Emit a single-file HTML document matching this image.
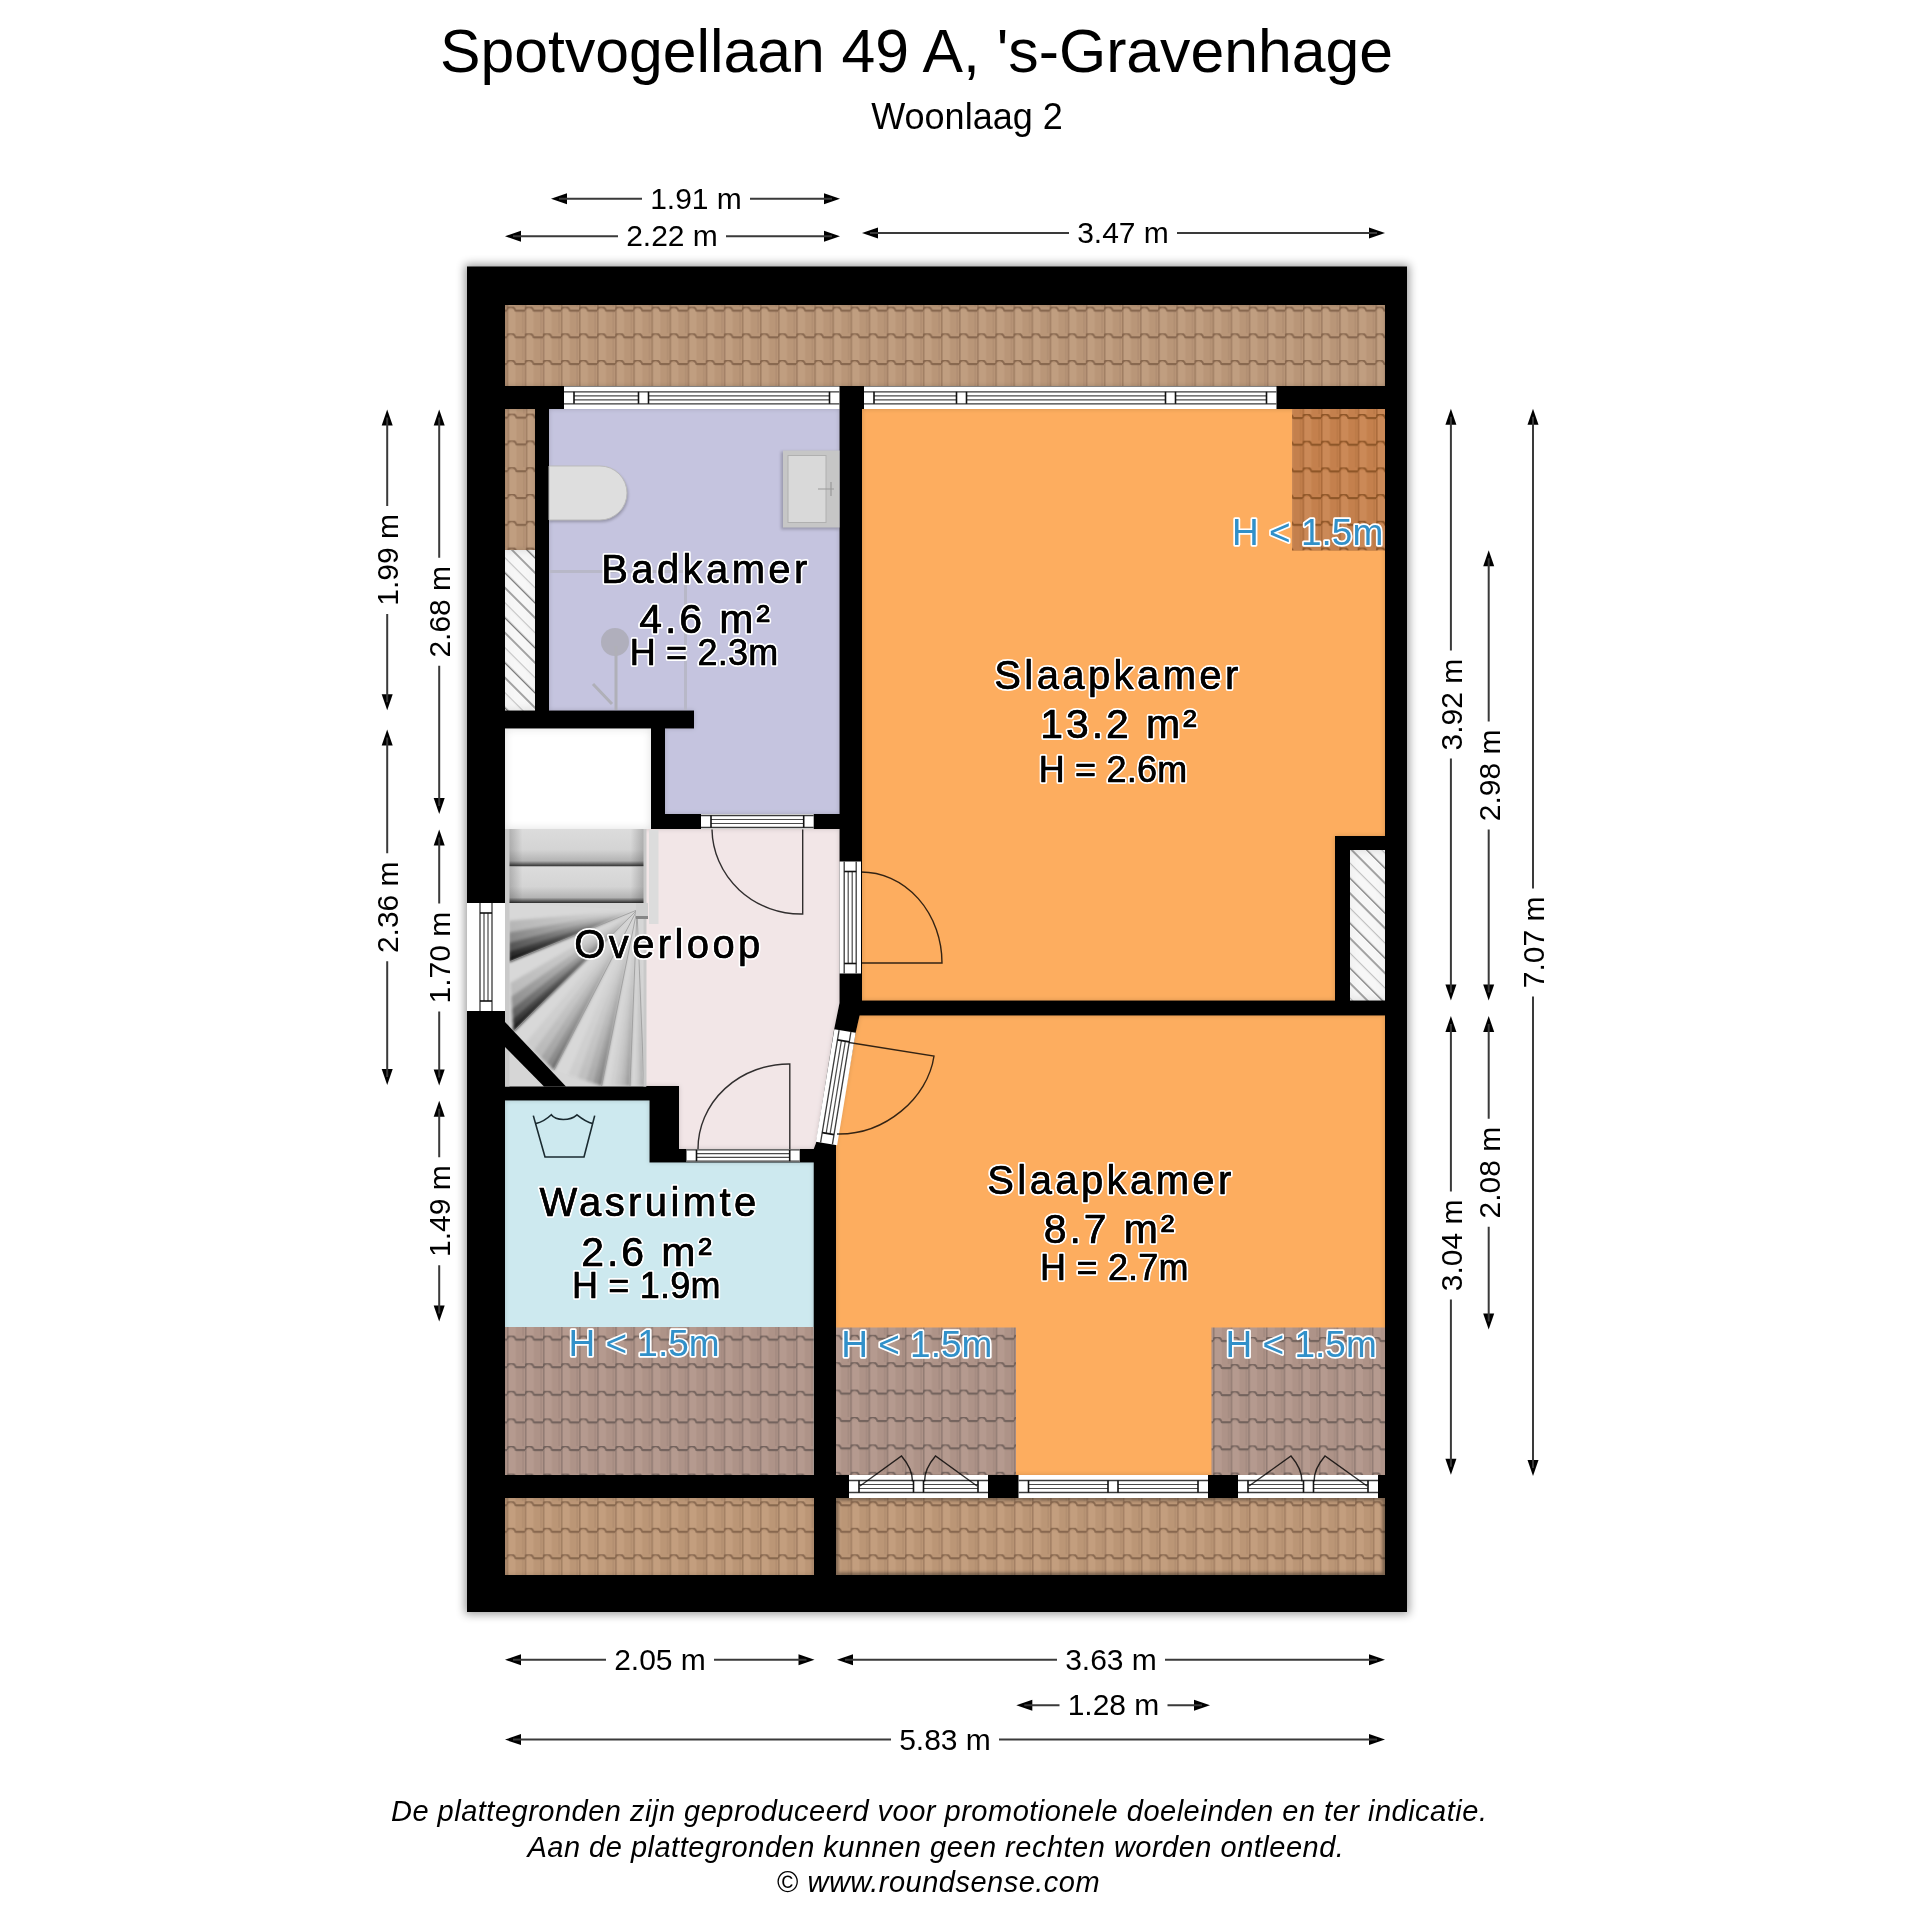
<!DOCTYPE html>
<html><head><meta charset="utf-8"><title>Spotvogellaan 49 A - Woonlaag 2</title>
<style>
html,body{margin:0;padding:0;background:#fff;width:1920px;height:1920px;overflow:hidden}
svg{display:block;will-change:transform}
text{font-family:"Liberation Sans",sans-serif;}
.dim{fill:#000}
.lbl{fill:#000;stroke:#fff;stroke-width:4px;paint-order:stroke;stroke-linejoin:round;font-size:40px;letter-spacing:3.4px}
.ar{fill:#000;stroke:#fff;stroke-width:4px;paint-order:stroke;stroke-linejoin:round;font-size:41px;letter-spacing:2.9px}
.hl{fill:#000;stroke:#fff;stroke-width:4px;paint-order:stroke;stroke-linejoin:round;font-size:36px;letter-spacing:0.2px}
.hlo{fill:#3190c9;stroke:#fff;stroke-width:3.4px;paint-order:stroke;stroke-linejoin:round;font-size:37px}
.ov{stroke:currentColor;stroke-width:0.55px}
.lbl.ov,.ar.ov,.hl.ov{stroke:#000;color:#000}
.hlo.ov{stroke:#3391cb}
.disc{font-style:italic;font-size:29px;fill:#000;letter-spacing:0.5px}
</style></head><body>
<svg width="1920" height="1920" viewBox="0 0 1920 1920">
<defs>
<pattern id="tileTop" patternUnits="userSpaceOnUse" width="18.1" height="26.7" x="506.6" y="306.6">
<rect width="18.1" height="26.7" fill="#b99678"/>
<rect x="1.6" y="3" width="7.31" height="23.7" fill="#c4a184" opacity="0.7"/>
<rect x="15.50" y="4" width="1.4" height="22.7" fill="#84644c" opacity="0.18"/>
<rect x="0" y="0" width="1.5" height="26.7" fill="#84644c" opacity="0.45"/>
<path d="M0,3.9 C0.4,0.8 1.8,0.2 4.25,0.2 C6.71,0.2 7.91,0.8 8.91,3.9 L18.1,3.9" fill="none" stroke="#84644c" stroke-width="1.9" opacity="0.9"/>
<rect x="9.11" y="3.9" width="8.99" height="1.6" fill="#84644c" opacity="0.35"/>
</pattern>
<pattern id="tileBot" patternUnits="userSpaceOnUse" width="18.1" height="26.5" x="506.6" y="1501.3">
<rect width="18.1" height="26.5" fill="#bb9676"/>
<rect x="1.6" y="3" width="7.31" height="23.5" fill="#c6a182" opacity="0.7"/>
<rect x="15.50" y="4" width="1.4" height="22.5" fill="#84644c" opacity="0.18"/>
<rect x="0" y="0" width="1.5" height="26.5" fill="#84644c" opacity="0.45"/>
<path d="M0,3.9 C0.4,0.8 1.8,0.2 4.25,0.2 C6.71,0.2 7.91,0.8 8.91,3.9 L18.1,3.9" fill="none" stroke="#84644c" stroke-width="1.9" opacity="0.9"/>
<rect x="9.11" y="3.9" width="8.99" height="1.6" fill="#84644c" opacity="0.35"/>
</pattern>
<pattern id="tileBot2" patternUnits="userSpaceOnUse" width="18.15" height="26.5" x="850.5" y="1501.3">
<rect width="18.15" height="26.5" fill="#bb9676"/>
<rect x="1.6" y="3" width="7.33" height="23.5" fill="#c6a182" opacity="0.7"/>
<rect x="15.55" y="4" width="1.4" height="22.5" fill="#84644c" opacity="0.18"/>
<rect x="0" y="0" width="1.5" height="26.5" fill="#84644c" opacity="0.45"/>
<path d="M0,3.9 C0.4,0.8 1.8,0.2 4.27,0.2 C6.73,0.2 7.93,0.8 8.93,3.9 L18.15,3.9" fill="none" stroke="#84644c" stroke-width="1.9" opacity="0.9"/>
<rect x="9.13" y="3.9" width="9.02" height="1.6" fill="#84644c" opacity="0.35"/>
</pattern>
<pattern id="tileBot3" patternUnits="userSpaceOnUse" width="17.7" height="26.5" x="1213.5" y="1501.3">
<rect width="17.7" height="26.5" fill="#bb9676"/>
<rect x="1.6" y="3" width="7.12" height="23.5" fill="#c6a182" opacity="0.7"/>
<rect x="15.10" y="4" width="1.4" height="22.5" fill="#84644c" opacity="0.18"/>
<rect x="0" y="0" width="1.5" height="26.5" fill="#84644c" opacity="0.45"/>
<path d="M0,3.9 C0.4,0.8 1.8,0.2 4.16,0.2 C6.52,0.2 7.72,0.8 8.72,3.9 L17.7,3.9" fill="none" stroke="#84644c" stroke-width="1.9" opacity="0.9"/>
<rect x="8.92" y="3.9" width="8.78" height="1.6" fill="#84644c" opacity="0.35"/>
</pattern>
<pattern id="tileGray" patternUnits="userSpaceOnUse" width="18.06" height="27.6" x="506.9" y="1335.6">
<rect width="18.06" height="27.6" fill="#ae9388"/>
<rect x="1.6" y="3" width="7.29" height="24.6" fill="#b89d92" opacity="0.7"/>
<rect x="15.46" y="4" width="1.4" height="23.6" fill="#6f605a" opacity="0.18"/>
<rect x="0" y="0" width="1.5" height="27.6" fill="#6f605a" opacity="0.45"/>
<path d="M0,3.9 C0.4,0.8 1.8,0.2 4.24,0.2 C6.69,0.2 7.89,0.8 8.89,3.9 L18.06,3.9" fill="none" stroke="#6f605a" stroke-width="1.9" opacity="0.9"/>
<rect x="9.09" y="3.9" width="8.97" height="1.6" fill="#6f605a" opacity="0.35"/>
</pattern>
<pattern id="tileGray2" patternUnits="userSpaceOnUse" width="18.17" height="27.4" x="850.3" y="1334.8">
<rect width="18.17" height="27.4" fill="#ae9388"/>
<rect x="1.6" y="3" width="7.34" height="24.4" fill="#b89d92" opacity="0.7"/>
<rect x="15.57" y="4" width="1.4" height="23.4" fill="#6f605a" opacity="0.18"/>
<rect x="0" y="0" width="1.5" height="27.4" fill="#6f605a" opacity="0.45"/>
<path d="M0,3.9 C0.4,0.8 1.8,0.2 4.27,0.2 C6.74,0.2 7.94,0.8 8.94,3.9 L18.17,3.9" fill="none" stroke="#6f605a" stroke-width="1.9" opacity="0.9"/>
<rect x="9.14" y="3.9" width="9.03" height="1.6" fill="#6f605a" opacity="0.35"/>
</pattern>
<pattern id="tileGray3" patternUnits="userSpaceOnUse" width="17.65" height="27.1" x="1213.0" y="1337.0">
<rect width="17.65" height="27.1" fill="#ae9388"/>
<rect x="1.6" y="3" width="7.10" height="24.1" fill="#b89d92" opacity="0.7"/>
<rect x="15.05" y="4" width="1.4" height="23.1" fill="#6f605a" opacity="0.18"/>
<rect x="0" y="0" width="1.5" height="27.1" fill="#6f605a" opacity="0.45"/>
<path d="M0,3.9 C0.4,0.8 1.8,0.2 4.15,0.2 C6.50,0.2 7.70,0.8 8.70,3.9 L17.65,3.9" fill="none" stroke="#6f605a" stroke-width="1.9" opacity="0.9"/>
<rect x="8.90" y="3.9" width="8.75" height="1.6" fill="#6f605a" opacity="0.35"/>
</pattern>
<pattern id="tileStrip" patternUnits="userSpaceOnUse" width="18.3" height="26.8" x="507.5" y="413.6">
<rect width="18.3" height="26.8" fill="#b99678"/>
<rect x="1.6" y="3" width="7.40" height="23.8" fill="#c4a184" opacity="0.7"/>
<rect x="15.70" y="4" width="1.4" height="22.8" fill="#84644c" opacity="0.18"/>
<rect x="0" y="0" width="1.5" height="26.8" fill="#84644c" opacity="0.45"/>
<path d="M0,3.9 C0.4,0.8 1.8,0.2 4.30,0.2 C6.80,0.2 8.00,0.8 9.00,3.9 L18.3,3.9" fill="none" stroke="#84644c" stroke-width="1.9" opacity="0.9"/>
<rect x="9.20" y="3.9" width="9.10" height="1.6" fill="#84644c" opacity="0.35"/>
</pattern>
<pattern id="tileOr" patternUnits="userSpaceOnUse" width="18.4" height="26.7" x="1302.5" y="414.0">
<rect width="18.4" height="26.7" fill="#c4804d"/>
<rect x="1.6" y="3" width="7.45" height="23.7" fill="#cf8d5c" opacity="0.7"/>
<rect x="15.80" y="4" width="1.4" height="22.7" fill="#8a5225" opacity="0.18"/>
<rect x="0" y="0" width="1.5" height="26.7" fill="#8a5225" opacity="0.45"/>
<path d="M0,3.9 C0.4,0.8 1.8,0.2 4.32,0.2 C6.85,0.2 8.05,0.8 9.05,3.9 L18.4,3.9" fill="none" stroke="#8a5225" stroke-width="1.9" opacity="0.9"/>
<rect x="9.25" y="3.9" width="9.15" height="1.6" fill="#8a5225" opacity="0.35"/>
</pattern>
<pattern id="hatch" patternUnits="userSpaceOnUse" width="31.8" height="31.8" patternTransform="rotate(-45) translate(0,0)">
<rect width="31.8" height="31.8" fill="#f7f7f7"/><line x1="5" y1="0" x2="5" y2="31.8" stroke="#6a6a6a" stroke-width="1.2"/><line x1="15.6" y1="0" x2="15.6" y2="31.8" stroke="#6a6a6a" stroke-width="1.2"/><line x1="26.2" y1="0" x2="26.2" y2="31.8" stroke="#bbb" stroke-width="1"/></pattern>
<linearGradient id="stepg" x1="0" y1="0" x2="0" y2="1"><stop offset="0" stop-color="#dcdcdc"/><stop offset="0.55" stop-color="#d4d4d4"/><stop offset="0.85" stop-color="#b4b4b4"/><stop offset="1" stop-color="#2a2a2a"/></linearGradient>
<linearGradient id="stepx" x1="0" y1="0" x2="1" y2="0"><stop offset="0" stop-color="#000" stop-opacity="0.2"/><stop offset="0.1" stop-color="#000" stop-opacity="0"/><stop offset="0.9" stop-color="#000" stop-opacity="0"/><stop offset="1" stop-color="#000" stop-opacity="0.2"/></linearGradient>
<clipPath id="clipBand"><rect x="836" y="1498" width="549" height="77"/></clipPath>
<clipPath id="stairclip"><rect x="509" y="903" width="135" height="183"/></clipPath>
<linearGradient id="wg0" gradientUnits="userSpaceOnUse" x1="637" y1="910" x2="509" y2="962"><stop offset="0" stop-color="#000" stop-opacity="0"/><stop offset="0.5" stop-color="#000" stop-opacity="0.5"/><stop offset="1" stop-color="#000" stop-opacity="1"/></linearGradient>
<linearGradient id="wg1" gradientUnits="userSpaceOnUse" x1="637" y1="910" x2="513.5" y2="1031.5"><stop offset="0" stop-color="#000" stop-opacity="0"/><stop offset="0.5" stop-color="#000" stop-opacity="0.5"/><stop offset="1" stop-color="#000" stop-opacity="1"/></linearGradient>
<linearGradient id="wg2" gradientUnits="userSpaceOnUse" x1="637" y1="910" x2="554" y2="1070"><stop offset="0" stop-color="#000" stop-opacity="0"/><stop offset="0.5" stop-color="#000" stop-opacity="0.5"/><stop offset="1" stop-color="#000" stop-opacity="1"/></linearGradient>
<linearGradient id="wg3" gradientUnits="userSpaceOnUse" x1="637" y1="910" x2="601.6" y2="1086"><stop offset="0" stop-color="#000" stop-opacity="0"/><stop offset="0.5" stop-color="#000" stop-opacity="0.5"/><stop offset="1" stop-color="#000" stop-opacity="1"/></linearGradient>
<linearGradient id="wg4" gradientUnits="userSpaceOnUse" x1="637" y1="910" x2="630" y2="1086"><stop offset="0" stop-color="#000" stop-opacity="0"/><stop offset="0.5" stop-color="#000" stop-opacity="0.5"/><stop offset="1" stop-color="#000" stop-opacity="1"/></linearGradient>
<linearGradient id="wg5" gradientUnits="userSpaceOnUse" x1="637" y1="910" x2="644" y2="1086"><stop offset="0" stop-color="#000" stop-opacity="0"/><stop offset="0.5" stop-color="#000" stop-opacity="0.5"/><stop offset="1" stop-color="#000" stop-opacity="1"/></linearGradient>
<filter id="inset" x="-5%" y="-5%" width="110%" height="110%">
<feFlood flood-color="#000" result="f"/>
<feComposite in="f" in2="SourceAlpha" operator="out" result="outside"/>
<feGaussianBlur in="outside" stdDeviation="2.5" result="blur"/>
<feComposite in="blur" in2="SourceAlpha" operator="in" result="inner"/>
<feComponentTransfer in="inner" result="innerA"><feFuncA type="linear" slope="0.35"/></feComponentTransfer>
<feMerge><feMergeNode in="SourceGraphic"/><feMergeNode in="innerA"/></feMerge>
</filter>
<filter id="inset2" x="-5%" y="-5%" width="110%" height="110%">
<feFlood flood-color="#000" result="f"/>
<feComposite in="f" in2="SourceAlpha" operator="out" result="outside"/>
<feGaussianBlur in="outside" stdDeviation="4" result="blur"/>
<feComposite in="blur" in2="SourceAlpha" operator="in" result="inner"/>
<feComponentTransfer in="inner" result="innerA"><feFuncA type="linear" slope="0.3"/></feComponentTransfer>
<feMerge><feMergeNode in="SourceGraphic"/><feMergeNode in="innerA"/></feMerge>
</filter>
<filter id="shadow" x="-5%" y="-5%" width="110%" height="110%"><feGaussianBlur stdDeviation="5"/></filter>
<filter id="soft" x="-20%" y="-20%" width="140%" height="140%"><feGaussianBlur stdDeviation="1.5"/></filter>
<filter id="soft3" x="-20%" y="-20%" width="140%" height="140%"><feGaussianBlur stdDeviation="3"/></filter>
</defs>
<rect width="1920" height="1920" fill="#fff"/>
<text x="916.5" y="72" text-anchor="middle" font-size="60.7" fill="#000">Spotvogellaan 49 A, 's-Gravenhage</text>
<text x="967" y="129" text-anchor="middle" font-size="36" fill="#000">Woonlaag 2</text>
<rect x="465" y="264.5" width="944" height="1349.5" fill="#000" opacity="0.4" filter="url(#shadow)"/>
<rect x="467" y="266.5" width="940" height="1345.5" fill="#000"/>
<rect x="505" y="305" width="880" height="81" fill="url(#tileTop)" filter="url(#inset)"/>
<rect x="505" y="1498" width="309" height="77" fill="url(#tileBot)" filter="url(#inset)"/>
<rect x="836" y="1498" width="375" height="77" fill="url(#tileBot2)"/>
<rect x="1211" y="1498" width="174" height="77" fill="url(#tileBot3)"/>
<g clip-path="url(#clipBand)"><rect x="836" y="1498" width="549" height="77" fill="none" stroke="#000" stroke-width="5" stroke-opacity="0.35" filter="url(#soft)"/></g>
<path d="M549,409 H839.5 V814 H665 V728.5 H694 V710.5 H549 Z" fill="#c5c4df" filter="url(#inset)"/>
<path d="M549,468 H601 A27,27 0 0 1 601,522 H549 Z" fill="#000" opacity="0.25" filter="url(#soft)"/>
<path d="M549,466 H600 A27,27 0 0 1 600,520 H549 Z" fill="#dedede"/>
<path d="M549,466 H600 A27,27 0 0 1 600,520 H549 Z" fill="none" stroke="#bbb" stroke-width="1"/>
<rect x="781" y="451.5" width="58" height="78" fill="#000" opacity="0.22" filter="url(#soft)"/>
<rect x="783" y="450.5" width="56.5" height="77" fill="#c6c6c6"/>
<rect x="788" y="455.5" width="38" height="67" fill="#d9d9d9" stroke="#b0b0b0" stroke-width="1"/>
<path d="M818,489 H834 M831,482 V496" stroke="#999" stroke-width="1.2"/>
<path d="M549,571.5 H686 M685.5,571.5 V710" stroke="#b8b8c8" stroke-width="3" fill="none"/>
<circle cx="615" cy="642" r="14" fill="#a8a8b0" opacity="0.75"/>
<path d="M616,646 V710 M593,684 L612,704" stroke="#b0b0b8" stroke-width="3" fill="none"/>
<rect x="505" y="409" width="30" height="141" fill="url(#tileStrip)" filter="url(#inset)"/>
<rect x="505" y="550" width="30" height="160.5" fill="url(#hatch)" filter="url(#inset2)"/>
<rect x="505" y="728.5" width="146" height="100.5" fill="#fff" filter="url(#inset2)"/>
<path d="M560,829 H839.5 V1003 L834,1030 L816,1143 L813.7,1149 H679 V1086 H560 Z" fill="#f2e6e7" filter="url(#inset)"/>
<rect x="505" y="829" width="141" height="257.5" fill="#d6d6d6"/>
<rect x="509" y="829" width="135" height="37.5" fill="url(#stepg)"/>
<rect x="509" y="829" width="135" height="37.5" fill="url(#stepx)"/>
<rect x="509" y="866.5" width="135" height="36.5" fill="url(#stepg)"/>
<rect x="509" y="866.5" width="135" height="36.5" fill="url(#stepx)"/>
<path d="M637,910 L509,903 L509,962 Z" fill="#d8d8d8"/>
<path d="M637,910 L509,962 L513.5,1031.5 Z" fill="#d8d8d8"/>
<path d="M637,910 L513.5,1031.5 L554,1070 Z" fill="#d8d8d8"/>
<path d="M637,910 L554,1070 L601.6,1086 Z" fill="#d8d8d8"/>
<path d="M637,910 L601.6,1086 L630,1086 Z" fill="#d8d8d8"/>
<path d="M637,910 L630,1086 L644,1086 Z" fill="#d8d8d8"/>
<g clip-path="url(#stairclip)"><g filter="url(#soft)">
<path d="M637,910 L509,962 L509.0,920.7 Z" fill="url(#wg0)" opacity="0.18"/>
<path d="M637,910 L509,962 L509.0,932.5 Z" fill="url(#wg0)" opacity="0.27"/>
<path d="M637,910 L509,962 L509.0,943.1 Z" fill="url(#wg0)" opacity="0.38"/>
<path d="M637,910 L509,962 L509.0,952.0 Z" fill="url(#wg0)" opacity="0.52"/>
<path d="M637,910 L509,962 L509.0,958.5 Z" fill="url(#wg0)" opacity="0.75"/>
<path d="M637,910 L513.5,1031.5 L510.4,982.9 Z" fill="url(#wg1)" opacity="0.16"/>
<path d="M637,910 L513.5,1031.5 L511.2,996.8 Z" fill="url(#wg1)" opacity="0.24"/>
<path d="M637,910 L513.5,1031.5 L512.1,1009.3 Z" fill="url(#wg1)" opacity="0.34"/>
<path d="M637,910 L513.5,1031.5 L512.7,1019.7 Z" fill="url(#wg1)" opacity="0.47"/>
<path d="M637,910 L513.5,1031.5 L513.2,1027.3 Z" fill="url(#wg1)" opacity="0.68"/>
<path d="M637,910 L554,1070 L525.6,1043.0 Z" fill="url(#wg2)" opacity="0.06"/>
<path d="M637,910 L554,1070 L533.8,1050.8 Z" fill="url(#wg2)" opacity="0.09"/>
<path d="M637,910 L554,1070 L541.0,1057.7 Z" fill="url(#wg2)" opacity="0.12"/>
<path d="M637,910 L554,1070 L547.1,1063.5 Z" fill="url(#wg2)" opacity="0.17"/>
<path d="M637,910 L554,1070 L551.6,1067.7 Z" fill="url(#wg2)" opacity="0.25"/>
<path d="M637,910 L601.6,1086 L568.3,1074.8 Z" fill="url(#wg3)" opacity="0.05"/>
<path d="M637,910 L601.6,1086 L577.8,1078.0 Z" fill="url(#wg3)" opacity="0.07"/>
<path d="M637,910 L601.6,1086 L586.4,1080.9 Z" fill="url(#wg3)" opacity="0.10"/>
<path d="M637,910 L601.6,1086 L593.5,1083.3 Z" fill="url(#wg3)" opacity="0.14"/>
<path d="M637,910 L601.6,1086 L598.7,1085.0 Z" fill="url(#wg3)" opacity="0.20"/>
<path d="M637,910 L630,1086 L610.1,1086.0 Z" fill="url(#wg4)" opacity="0.04"/>
<path d="M637,910 L630,1086 L615.8,1086.0 Z" fill="url(#wg4)" opacity="0.05"/>
<path d="M637,910 L630,1086 L620.9,1086.0 Z" fill="url(#wg4)" opacity="0.07"/>
<path d="M637,910 L630,1086 L625.2,1086.0 Z" fill="url(#wg4)" opacity="0.10"/>
<path d="M637,910 L630,1086 L628.3,1086.0 Z" fill="url(#wg4)" opacity="0.15"/>
<path d="M637,910 L644,1086 L634.2,1086.0 Z" fill="url(#wg5)" opacity="0.03"/>
<path d="M637,910 L644,1086 L637.0,1086.0 Z" fill="url(#wg5)" opacity="0.04"/>
<path d="M637,910 L644,1086 L639.5,1086.0 Z" fill="url(#wg5)" opacity="0.06"/>
<path d="M637,910 L644,1086 L641.6,1086.0 Z" fill="url(#wg5)" opacity="0.09"/>
<path d="M637,910 L644,1086 L643.2,1086.0 Z" fill="url(#wg5)" opacity="0.12"/>
</g></g>
<line x1="637" y1="910" x2="509" y2="962" stroke="#9a9a9a" stroke-width="1" opacity="0.8"/>
<line x1="637" y1="910" x2="513.5" y2="1031.5" stroke="#9a9a9a" stroke-width="1" opacity="0.8"/>
<line x1="637" y1="910" x2="554" y2="1070" stroke="#9a9a9a" stroke-width="1" opacity="0.8"/>
<line x1="637" y1="910" x2="601.6" y2="1086" stroke="#9a9a9a" stroke-width="1" opacity="0.8"/>
<line x1="637" y1="910" x2="630" y2="1086" stroke="#9a9a9a" stroke-width="1" opacity="0.8"/>
<line x1="637" y1="910" x2="644" y2="1086" stroke="#9a9a9a" stroke-width="1" opacity="0.8"/>
<rect x="505" y="829" width="4.5" height="257.5" fill="#c9c9c9"/>
<rect x="643.5" y="829" width="3" height="257.5" fill="#c9c9c9"/>
<rect x="636" y="903" width="12" height="16" fill="#d0d0d0"/>
<rect x="636" y="916" width="12" height="3" fill="#555" opacity="0.6"/>
<rect x="649" y="830" width="9.5" height="94" fill="#dcdcdc"/>
<path d="M505,1022 L505,1047 L544,1086.5 L566,1086.5 Z" fill="#000"/>
<path d="M505,1100.5 H649.5 V1162.5 H813.7 V1475 H505 Z" fill="#cde9ef" filter="url(#inset)"/>
<rect x="505" y="1327" width="308.7" height="148" fill="url(#tileGray)"/>
<path d="M533.3,1115.6 L545,1157 H584 L594.7,1115.6 M535.5,1123.6 C543,1122 548,1118 551.3,1114.8 C556,1121 570,1121 577,1114.8 C581,1118 586,1122 592.8,1123.6" fill="none" stroke="#1a2a30" stroke-width="1.6"/>
<path d="M862,409 H1385 V836 H1335 V1000.5 H862 Z" fill="#fdad5e" filter="url(#inset)"/>
<rect x="1292" y="409" width="93" height="141.5" fill="url(#tileOr)"/>
<rect x="1350" y="850" width="35" height="150.5" fill="url(#hatch)" filter="url(#inset2)"/>
<path d="M859.6,1015.5 H1385 V1475 H836 V1144.5 L855.6,1033 Z" fill="#fdad5e" filter="url(#inset)"/>
<rect x="836" y="1327.5" width="180" height="147.5" fill="url(#tileGray2)"/>
<rect x="1211.5" y="1327.5" width="173.5" height="147.5" fill="url(#tileGray3)"/>
<rect x="564" y="386.5" width="275.5" height="22.5" fill="#fff"/>
<line x1="564" y1="391.8" x2="839.5" y2="391.8" stroke="#3a3a3a" stroke-width="1.3"/>
<line x1="564" y1="403.8" x2="839.5" y2="403.8" stroke="#3a3a3a" stroke-width="1.3"/>
<line x1="574.0" y1="395.8" x2="638.5" y2="395.8" stroke="#4a4a4a" stroke-width="1.2"/>
<line x1="574.0" y1="399.8" x2="638.5" y2="399.8" stroke="#4a4a4a" stroke-width="1.2"/>
<line x1="574.0" y1="391.8" x2="574.0" y2="403.8" stroke="#111" stroke-width="1.6"/>
<line x1="638.5" y1="391.8" x2="638.5" y2="403.8" stroke="#111" stroke-width="1.6"/>
<line x1="648.5" y1="395.8" x2="829.5" y2="395.8" stroke="#4a4a4a" stroke-width="1.2"/>
<line x1="648.5" y1="399.8" x2="829.5" y2="399.8" stroke="#4a4a4a" stroke-width="1.2"/>
<line x1="648.5" y1="391.8" x2="648.5" y2="403.8" stroke="#111" stroke-width="1.6"/>
<line x1="829.5" y1="391.8" x2="829.5" y2="403.8" stroke="#111" stroke-width="1.6"/>
<rect x="864" y="386.5" width="412.5" height="22.5" fill="#fff"/>
<line x1="864" y1="391.8" x2="1276.5" y2="391.8" stroke="#3a3a3a" stroke-width="1.3"/>
<line x1="864" y1="403.8" x2="1276.5" y2="403.8" stroke="#3a3a3a" stroke-width="1.3"/>
<line x1="874.0" y1="395.8" x2="956.5" y2="395.8" stroke="#4a4a4a" stroke-width="1.2"/>
<line x1="874.0" y1="399.8" x2="956.5" y2="399.8" stroke="#4a4a4a" stroke-width="1.2"/>
<line x1="874.0" y1="391.8" x2="874.0" y2="403.8" stroke="#111" stroke-width="1.6"/>
<line x1="956.5" y1="391.8" x2="956.5" y2="403.8" stroke="#111" stroke-width="1.6"/>
<line x1="966.5" y1="395.8" x2="1165.5" y2="395.8" stroke="#4a4a4a" stroke-width="1.2"/>
<line x1="966.5" y1="399.8" x2="1165.5" y2="399.8" stroke="#4a4a4a" stroke-width="1.2"/>
<line x1="966.5" y1="391.8" x2="966.5" y2="403.8" stroke="#111" stroke-width="1.6"/>
<line x1="1165.5" y1="391.8" x2="1165.5" y2="403.8" stroke="#111" stroke-width="1.6"/>
<line x1="1175.5" y1="395.8" x2="1266.5" y2="395.8" stroke="#4a4a4a" stroke-width="1.2"/>
<line x1="1175.5" y1="399.8" x2="1266.5" y2="399.8" stroke="#4a4a4a" stroke-width="1.2"/>
<line x1="1175.5" y1="391.8" x2="1175.5" y2="403.8" stroke="#111" stroke-width="1.6"/>
<line x1="1266.5" y1="391.8" x2="1266.5" y2="403.8" stroke="#111" stroke-width="1.6"/>
<rect x="849" y="1475" width="139" height="23" fill="#fff"/>
<line x1="849" y1="1480.5" x2="988" y2="1480.5" stroke="#3a3a3a" stroke-width="1.3"/>
<line x1="849" y1="1492.5" x2="988" y2="1492.5" stroke="#3a3a3a" stroke-width="1.3"/>
<line x1="859.0" y1="1484.5" x2="913.5" y2="1484.5" stroke="#4a4a4a" stroke-width="1.2"/>
<line x1="859.0" y1="1488.5" x2="913.5" y2="1488.5" stroke="#4a4a4a" stroke-width="1.2"/>
<line x1="859.0" y1="1480.5" x2="859.0" y2="1492.5" stroke="#111" stroke-width="1.6"/>
<line x1="913.5" y1="1480.5" x2="913.5" y2="1492.5" stroke="#111" stroke-width="1.6"/>
<line x1="923.5" y1="1484.5" x2="978.0" y2="1484.5" stroke="#4a4a4a" stroke-width="1.2"/>
<line x1="923.5" y1="1488.5" x2="978.0" y2="1488.5" stroke="#4a4a4a" stroke-width="1.2"/>
<line x1="923.5" y1="1480.5" x2="923.5" y2="1492.5" stroke="#111" stroke-width="1.6"/>
<line x1="978.0" y1="1480.5" x2="978.0" y2="1492.5" stroke="#111" stroke-width="1.6"/>
<rect x="1018.5" y="1475" width="189.5" height="23" fill="#fff"/>
<line x1="1018.5" y1="1480.5" x2="1208" y2="1480.5" stroke="#3a3a3a" stroke-width="1.3"/>
<line x1="1018.5" y1="1492.5" x2="1208" y2="1492.5" stroke="#3a3a3a" stroke-width="1.3"/>
<line x1="1028.5" y1="1484.5" x2="1108.0" y2="1484.5" stroke="#4a4a4a" stroke-width="1.2"/>
<line x1="1028.5" y1="1488.5" x2="1108.0" y2="1488.5" stroke="#4a4a4a" stroke-width="1.2"/>
<line x1="1028.5" y1="1480.5" x2="1028.5" y2="1492.5" stroke="#111" stroke-width="1.6"/>
<line x1="1108.0" y1="1480.5" x2="1108.0" y2="1492.5" stroke="#111" stroke-width="1.6"/>
<line x1="1118.0" y1="1484.5" x2="1198.0" y2="1484.5" stroke="#4a4a4a" stroke-width="1.2"/>
<line x1="1118.0" y1="1488.5" x2="1198.0" y2="1488.5" stroke="#4a4a4a" stroke-width="1.2"/>
<line x1="1118.0" y1="1480.5" x2="1118.0" y2="1492.5" stroke="#111" stroke-width="1.6"/>
<line x1="1198.0" y1="1480.5" x2="1198.0" y2="1492.5" stroke="#111" stroke-width="1.6"/>
<rect x="1238" y="1475" width="140" height="23" fill="#fff"/>
<line x1="1238" y1="1480.5" x2="1378" y2="1480.5" stroke="#3a3a3a" stroke-width="1.3"/>
<line x1="1238" y1="1492.5" x2="1378" y2="1492.5" stroke="#3a3a3a" stroke-width="1.3"/>
<line x1="1248.0" y1="1484.5" x2="1303.5" y2="1484.5" stroke="#4a4a4a" stroke-width="1.2"/>
<line x1="1248.0" y1="1488.5" x2="1303.5" y2="1488.5" stroke="#4a4a4a" stroke-width="1.2"/>
<line x1="1248.0" y1="1480.5" x2="1248.0" y2="1492.5" stroke="#111" stroke-width="1.6"/>
<line x1="1303.5" y1="1480.5" x2="1303.5" y2="1492.5" stroke="#111" stroke-width="1.6"/>
<line x1="1313.5" y1="1484.5" x2="1368.0" y2="1484.5" stroke="#4a4a4a" stroke-width="1.2"/>
<line x1="1313.5" y1="1488.5" x2="1368.0" y2="1488.5" stroke="#4a4a4a" stroke-width="1.2"/>
<line x1="1313.5" y1="1480.5" x2="1313.5" y2="1492.5" stroke="#111" stroke-width="1.6"/>
<line x1="1368.0" y1="1480.5" x2="1368.0" y2="1492.5" stroke="#111" stroke-width="1.6"/>
<rect x="467" y="903" width="38" height="108" fill="#fff"/>
<line x1="480.0" y1="903" x2="480.0" y2="1011" stroke="#3a3a3a" stroke-width="1.3"/>
<line x1="492.0" y1="903" x2="492.0" y2="1011" stroke="#3a3a3a" stroke-width="1.3"/>
<line x1="484.0" y1="913.0" x2="484.0" y2="1001.0" stroke="#4a4a4a" stroke-width="1.2"/>
<line x1="488.0" y1="913.0" x2="488.0" y2="1001.0" stroke="#4a4a4a" stroke-width="1.2"/>
<line x1="480.0" y1="913.0" x2="492.0" y2="913.0" stroke="#111" stroke-width="1.6"/>
<line x1="480.0" y1="1001.0" x2="492.0" y2="1001.0" stroke="#111" stroke-width="1.6"/>
<rect x="701" y="814" width="112.70000000000005" height="15" fill="#fff"/>
<line x1="701" y1="815.5" x2="813.7" y2="815.5" stroke="#3a3a3a" stroke-width="1.3"/>
<line x1="701" y1="827.5" x2="813.7" y2="827.5" stroke="#3a3a3a" stroke-width="1.3"/>
<line x1="711.0" y1="819.5" x2="803.7" y2="819.5" stroke="#4a4a4a" stroke-width="1.2"/>
<line x1="711.0" y1="823.5" x2="803.7" y2="823.5" stroke="#4a4a4a" stroke-width="1.2"/>
<line x1="711.0" y1="815.5" x2="711.0" y2="827.5" stroke="#111" stroke-width="1.6"/>
<line x1="803.7" y1="815.5" x2="803.7" y2="827.5" stroke="#111" stroke-width="1.6"/>
<rect x="686.5" y="1149" width="113.20000000000005" height="13" fill="#fff"/>
<line x1="686.5" y1="1149.8" x2="799.7" y2="1149.8" stroke="#3a3a3a" stroke-width="1.3"/>
<line x1="686.5" y1="1161.2" x2="799.7" y2="1161.2" stroke="#3a3a3a" stroke-width="1.3"/>
<line x1="696.5" y1="1153.6" x2="789.7" y2="1153.6" stroke="#4a4a4a" stroke-width="1.2"/>
<line x1="696.5" y1="1157.4" x2="789.7" y2="1157.4" stroke="#4a4a4a" stroke-width="1.2"/>
<line x1="696.5" y1="1149.8" x2="696.5" y2="1161.2" stroke="#111" stroke-width="1.6"/>
<line x1="789.7" y1="1149.8" x2="789.7" y2="1161.2" stroke="#111" stroke-width="1.6"/>
<rect x="839.5" y="861.5" width="21.5" height="112.0" fill="#fff"/>
<line x1="844.2" y1="861.5" x2="844.2" y2="973.5" stroke="#3a3a3a" stroke-width="1.3"/>
<line x1="856.2" y1="861.5" x2="856.2" y2="973.5" stroke="#3a3a3a" stroke-width="1.3"/>
<line x1="848.2" y1="871.5" x2="848.2" y2="963.5" stroke="#4a4a4a" stroke-width="1.2"/>
<line x1="852.2" y1="871.5" x2="852.2" y2="963.5" stroke="#4a4a4a" stroke-width="1.2"/>
<line x1="844.2" y1="871.5" x2="856.2" y2="871.5" stroke="#111" stroke-width="1.6"/>
<line x1="844.2" y1="963.5" x2="856.2" y2="963.5" stroke="#111" stroke-width="1.6"/>
<g transform="translate(845,1031) rotate(9.34)"><rect x="-10.8" y="0" width="21.6" height="114.01096438500991" fill="#fff"/>
<line x1="-6.0" y1="0" x2="-6.0" y2="114.01096438500991" stroke="#3a3a3a" stroke-width="1.3"/>
<line x1="6.0" y1="0" x2="6.0" y2="114.01096438500991" stroke="#3a3a3a" stroke-width="1.3"/>
<line x1="-2.0" y1="10.0" x2="-2.0" y2="104.0" stroke="#4a4a4a" stroke-width="1.2"/>
<line x1="2.0" y1="10.0" x2="2.0" y2="104.0" stroke="#4a4a4a" stroke-width="1.2"/>
<line x1="-6.0" y1="10.0" x2="6.0" y2="10.0" stroke="#111" stroke-width="1.6"/>
<line x1="-6.0" y1="104.0" x2="6.0" y2="104.0" stroke="#111" stroke-width="1.6"/></g>
<path d="M712,829.5 A89,86 0 0 0 802.7,914 V829.5" fill="none" stroke="#000" stroke-opacity="0.8" stroke-width="1.4"/>
<path d="M861,872 A81,91 0 0 1 942,963 H861" fill="none" stroke="#000" stroke-opacity="0.8" stroke-width="1.4"/>
<path d="M789.8,1149 V1064 A91,85 0 0 0 698,1149" fill="none" stroke="#000" stroke-opacity="0.8" stroke-width="1.4"/>
<path d="M849,1042.5 L934,1056 C928,1098 885,1135 837,1134" fill="none" stroke="#000" stroke-opacity="0.8" stroke-width="1.4"/>
<path d="M860,1486 L901.5,1456 C907.5,1463 912.5,1473 912.5,1481.5" fill="none" stroke="#000" stroke-opacity="0.8" stroke-width="1.4"/><path d="M977,1486 L935.5,1456 C929.5,1463 924.5,1473 924.5,1481.5" fill="none" stroke="#000" stroke-opacity="0.8" stroke-width="1.4"/>
<path d="M1249,1486 L1291.0,1456 C1297.0,1463 1302.0,1473 1302.0,1481.5" fill="none" stroke="#000" stroke-opacity="0.8" stroke-width="1.4"/><path d="M1367,1486 L1325.0,1456 C1319.0,1463 1314.0,1473 1314.0,1481.5" fill="none" stroke="#000" stroke-opacity="0.8" stroke-width="1.4"/>
<text x="706" y="583" text-anchor="middle" class="lbl">Badkamer</text><text x="706" y="583" text-anchor="middle" class="lbl ov">Badkamer</text>
<text x="706" y="632.5" text-anchor="middle" class="ar">4.6 m²</text><text x="706" y="632.5" text-anchor="middle" class="ar ov">4.6 m²</text>
<text x="704" y="665.3" text-anchor="middle" class="hl">H = 2.3m</text><text x="704" y="665.3" text-anchor="middle" class="hl ov">H = 2.3m</text>
<text x="1118" y="689" text-anchor="middle" class="lbl">Slaapkamer</text><text x="1118" y="689" text-anchor="middle" class="lbl ov">Slaapkamer</text>
<text x="1120" y="737.7" text-anchor="middle" class="ar">13.2 m²</text><text x="1120" y="737.7" text-anchor="middle" class="ar ov">13.2 m²</text>
<text x="1113" y="782.2" text-anchor="middle" class="hl">H = 2.6m</text><text x="1113" y="782.2" text-anchor="middle" class="hl ov">H = 2.6m</text>
<text x="669" y="957.5" text-anchor="middle" class="lbl">Overloop</text><text x="669" y="957.5" text-anchor="middle" class="lbl ov">Overloop</text>
<text x="1111" y="1193.7" text-anchor="middle" class="lbl">Slaapkamer</text><text x="1111" y="1193.7" text-anchor="middle" class="lbl ov">Slaapkamer</text>
<text x="1110.5" y="1243.3" text-anchor="middle" class="ar">8.7 m²</text><text x="1110.5" y="1243.3" text-anchor="middle" class="ar ov">8.7 m²</text>
<text x="1114.4" y="1279.8" text-anchor="middle" class="hl">H = 2.7m</text><text x="1114.4" y="1279.8" text-anchor="middle" class="hl ov">H = 2.7m</text>
<text x="649.5" y="1216.4" text-anchor="middle" class="lbl">Wasruimte</text><text x="649.5" y="1216.4" text-anchor="middle" class="lbl ov">Wasruimte</text>
<text x="648" y="1265.6" text-anchor="middle" class="ar">2.6 m²</text><text x="648" y="1265.6" text-anchor="middle" class="ar ov">2.6 m²</text>
<text x="646.3" y="1298.4" text-anchor="middle" class="hl">H = 1.9m</text><text x="646.3" y="1298.4" text-anchor="middle" class="hl ov">H = 1.9m</text>
<text x="1307.7" y="545.4" text-anchor="middle" class="hlo">H &lt; 1.5m</text>
<text x="644" y="1356" text-anchor="middle" class="hlo">H &lt; 1.5m</text>
<text x="916.8" y="1356.9" text-anchor="middle" class="hlo">H &lt; 1.5m</text>
<text x="1301.2" y="1356.9" text-anchor="middle" class="hlo">H &lt; 1.5m</text>
<path d="M551.0,198.7L567.0,193.2L567.0,204.2Z" fill="#000"/>
<path d="M840.0,198.7L824.0,204.2L824.0,193.2Z" fill="#000"/>
<path d="M559,198.7H642.0M750.0,198.7H832" stroke="#3a3a3a" stroke-width="2" fill="none"/>
<text x="696" y="208.6" text-anchor="middle" class="dim" font-size="30">1.91 m</text>
<path d="M505.0,236.3L521.0,230.8L521.0,241.8Z" fill="#000"/>
<path d="M840.0,236.3L824.0,241.8L824.0,230.8Z" fill="#000"/>
<path d="M513,236.3H618.0M726.0,236.3H832" stroke="#3a3a3a" stroke-width="2" fill="none"/>
<text x="672" y="246.2" text-anchor="middle" class="dim" font-size="30">2.22 m</text>
<path d="M862.0,233.0L878.0,227.5L878.0,238.5Z" fill="#000"/>
<path d="M1385.0,233.0L1369.0,238.5L1369.0,227.5Z" fill="#000"/>
<path d="M870,233H1069.0M1177.0,233H1377" stroke="#3a3a3a" stroke-width="2" fill="none"/>
<text x="1123" y="242.9" text-anchor="middle" class="dim" font-size="30">3.47 m</text>
<path d="M505.0,1659.8L521.0,1654.3L521.0,1665.3Z" fill="#000"/>
<path d="M814.5,1659.8L798.5,1665.3L798.5,1654.3Z" fill="#000"/>
<path d="M513,1659.8H606.0M714.0,1659.8H806.5" stroke="#3a3a3a" stroke-width="2" fill="none"/>
<text x="660" y="1669.7" text-anchor="middle" class="dim" font-size="30">2.05 m</text>
<path d="M837.0,1659.8L853.0,1654.3L853.0,1665.3Z" fill="#000"/>
<path d="M1385.0,1659.8L1369.0,1665.3L1369.0,1654.3Z" fill="#000"/>
<path d="M845,1659.8H1057.0M1165.0,1659.8H1377" stroke="#3a3a3a" stroke-width="2" fill="none"/>
<text x="1111" y="1669.7" text-anchor="middle" class="dim" font-size="30">3.63 m</text>
<path d="M1016.3,1705.2L1032.3,1699.7L1032.3,1710.7Z" fill="#000"/>
<path d="M1210.0,1705.2L1194.0,1710.7L1194.0,1699.7Z" fill="#000"/>
<path d="M1024.3,1705.2H1059.5M1167.5,1705.2H1202" stroke="#3a3a3a" stroke-width="2" fill="none"/>
<text x="1113.5" y="1715.1" text-anchor="middle" class="dim" font-size="30">1.28 m</text>
<path d="M505.0,1739.6L521.0,1734.1L521.0,1745.1Z" fill="#000"/>
<path d="M1385.0,1739.6L1369.0,1745.1L1369.0,1734.1Z" fill="#000"/>
<path d="M513,1739.6H891.0M999.0,1739.6H1377" stroke="#3a3a3a" stroke-width="2" fill="none"/>
<text x="945" y="1749.5" text-anchor="middle" class="dim" font-size="30">5.83 m</text>
<path d="M387.2,409.5L392.7,425.5L381.7,425.5Z" fill="#000"/>
<path d="M387.2,710.3L381.7,694.3L392.7,694.3Z" fill="#000"/>
<path d="M387.2,417.5V505.9M387.2,613.9V702.3" stroke="#3a3a3a" stroke-width="2" fill="none"/>
<text transform="translate(398.0,559.9) rotate(-90)" text-anchor="middle" class="dim" font-size="30">1.99 m</text>
<path d="M387.2,729.5L392.7,745.5L381.7,745.5Z" fill="#000"/>
<path d="M387.2,1085.0L381.7,1069.0L392.7,1069.0Z" fill="#000"/>
<path d="M387.2,737.5V853.2M387.2,961.2V1077" stroke="#3a3a3a" stroke-width="2" fill="none"/>
<text transform="translate(398.0,907.25) rotate(-90)" text-anchor="middle" class="dim" font-size="30">2.36 m</text>
<path d="M439.2,409.5L444.7,425.5L433.7,425.5Z" fill="#000"/>
<path d="M439.2,814.0L433.7,798.0L444.7,798.0Z" fill="#000"/>
<path d="M439.2,417.5V557.8M439.2,665.8V806" stroke="#3a3a3a" stroke-width="2" fill="none"/>
<text transform="translate(450.0,611.75) rotate(-90)" text-anchor="middle" class="dim" font-size="30">2.68 m</text>
<path d="M439.2,829.6L444.7,845.6L433.7,845.6Z" fill="#000"/>
<path d="M439.2,1085.5L433.7,1069.5L444.7,1069.5Z" fill="#000"/>
<path d="M439.2,837.6V903.5M439.2,1011.5V1077.5" stroke="#3a3a3a" stroke-width="2" fill="none"/>
<text transform="translate(450.0,957.55) rotate(-90)" text-anchor="middle" class="dim" font-size="30">1.70 m</text>
<path d="M439.2,1100.8L444.7,1116.8L433.7,1116.8Z" fill="#000"/>
<path d="M439.2,1321.5L433.7,1305.5L444.7,1305.5Z" fill="#000"/>
<path d="M439.2,1108.8V1157.2M439.2,1265.2V1313.5" stroke="#3a3a3a" stroke-width="2" fill="none"/>
<text transform="translate(450.0,1211.15) rotate(-90)" text-anchor="middle" class="dim" font-size="30">1.49 m</text>
<path d="M1450.9,408.8L1456.4,424.8L1445.4,424.8Z" fill="#000"/>
<path d="M1450.9,1000.5L1445.4,984.5L1456.4,984.5Z" fill="#000"/>
<path d="M1450.9,416.8V650.6M1450.9,758.6V992.5" stroke="#3a3a3a" stroke-width="2" fill="none"/>
<text transform="translate(1461.7,704.65) rotate(-90)" text-anchor="middle" class="dim" font-size="30">3.92 m</text>
<path d="M1450.9,1016.0L1456.4,1032.0L1445.4,1032.0Z" fill="#000"/>
<path d="M1450.9,1474.8L1445.4,1458.8L1456.4,1458.8Z" fill="#000"/>
<path d="M1450.9,1024V1191.4M1450.9,1299.4V1466.8" stroke="#3a3a3a" stroke-width="2" fill="none"/>
<text transform="translate(1461.7,1245.4) rotate(-90)" text-anchor="middle" class="dim" font-size="30">3.04 m</text>
<path d="M1488.7,550.3L1494.2,566.3L1483.2,566.3Z" fill="#000"/>
<path d="M1488.7,1000.5L1483.2,984.5L1494.2,984.5Z" fill="#000"/>
<path d="M1488.7,558.3V721.4M1488.7,829.4V992.5" stroke="#3a3a3a" stroke-width="2" fill="none"/>
<text transform="translate(1499.5,775.4) rotate(-90)" text-anchor="middle" class="dim" font-size="30">2.98 m</text>
<path d="M1488.7,1016.0L1494.2,1032.0L1483.2,1032.0Z" fill="#000"/>
<path d="M1488.7,1329.4L1483.2,1313.4L1494.2,1313.4Z" fill="#000"/>
<path d="M1488.7,1024V1118.7M1488.7,1226.7V1321.4" stroke="#3a3a3a" stroke-width="2" fill="none"/>
<text transform="translate(1499.5,1172.7) rotate(-90)" text-anchor="middle" class="dim" font-size="30">2.08 m</text>
<path d="M1533.0,408.8L1538.5,424.8L1527.5,424.8Z" fill="#000"/>
<path d="M1533.0,1476.0L1527.5,1460.0L1538.5,1460.0Z" fill="#000"/>
<path d="M1533,416.8V888.4M1533,996.4V1468" stroke="#3a3a3a" stroke-width="2" fill="none"/>
<text transform="translate(1543.8,942.4) rotate(-90)" text-anchor="middle" class="dim" font-size="30">7.07 m</text>
<text x="939.2" y="1820.8" text-anchor="middle" class="disc">De plattegronden zijn geproduceerd voor promotionele doeleinden en ter indicatie.</text>
<text x="935.9" y="1857" text-anchor="middle" class="disc">Aan de plattegronden kunnen geen rechten worden ontleend.</text>
<text x="938.6" y="1892" text-anchor="middle" class="disc"><tspan font-style="normal">©</tspan> www.roundsense.com</text>
</svg></body></html>
